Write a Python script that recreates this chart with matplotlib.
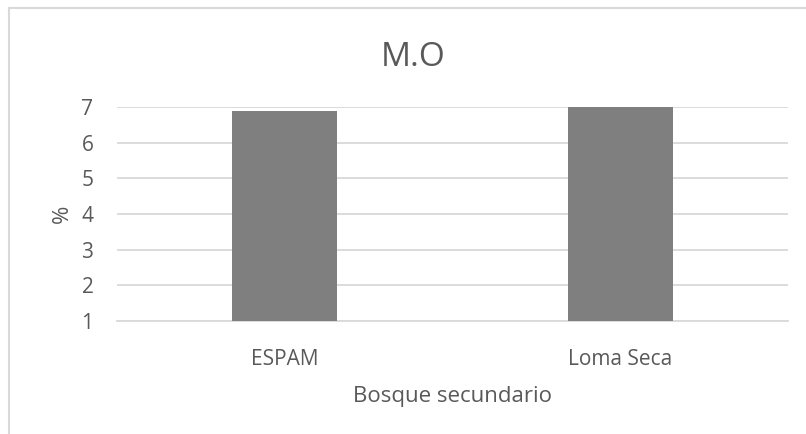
import matplotlib
matplotlib.use("Agg")
import matplotlib.pyplot as plt
from matplotlib.lines import Line2D

# Organic matter content per site
categories = ["ESPAM", "Loma Seca"]
values = [6.9, 7.0]
yticks = [1, 2, 3, 4, 5, 6, 7]

title = "M.O"
xlabel = "Bosque secundario"
ylabel = "%"

plt.rcParams["font.family"] = ["Open Sans", "DejaVu Sans"]

W, H = 806, 434
fig = plt.figure(figsize=(W / 100, H / 100), dpi=100)
ax = fig.add_axes([117 / W, 1 - 321 / H, (788 - 117) / W, (321 - 107) / H])

text_color = "#595959"
grid_color = "#d9d9d9"

x = list(range(len(categories)))
ax.bar(x, values, width=0.313, color="#7f7f7f", bottom=0, zorder=3)

ax.set_xlim(-0.5, len(categories) - 0.5)
ax.set_ylim(1, 7)
ax.set_yticks(yticks)
ax.set_yticklabels([str(t) for t in yticks])
ax.set_xticks(x)
ax.set_xticklabels(categories)

ax.yaxis.grid(True, color=grid_color, linewidth=1.3, zorder=0)
ax.set_axisbelow(True)
for side in ["top", "right", "left"]:
    ax.spines[side].set_visible(False)
ax.spines["bottom"].set_color(grid_color)
ax.spines["bottom"].set_linewidth(1.3)

ax.tick_params(axis="both", length=0, colors=text_color, labelsize=15)
ax.tick_params(axis="y", pad=17)
ax.tick_params(axis="x", pad=20)

ax.set_xlabel(xlabel, fontsize=16, color=text_color, labelpad=12)
ax.set_ylabel(ylabel, fontsize=16, color=text_color, labelpad=6)

fig.text(413 / W, 1 - 57 / H, title, ha="center", va="center",
         fontsize=24, color=text_color)

# Chart area frame
fig.add_artist(Line2D([8.5 / W, 8.5 / W], [0, 1 - 7.5 / H], transform=fig.transFigure,
                      color=grid_color, linewidth=1.5))
fig.add_artist(Line2D([8.5 / W, 1], [1 - 7.5 / H, 1 - 7.5 / H], transform=fig.transFigure,
                      color=grid_color, linewidth=1.5))

fig.savefig("out.png", dpi=100, facecolor="white")
